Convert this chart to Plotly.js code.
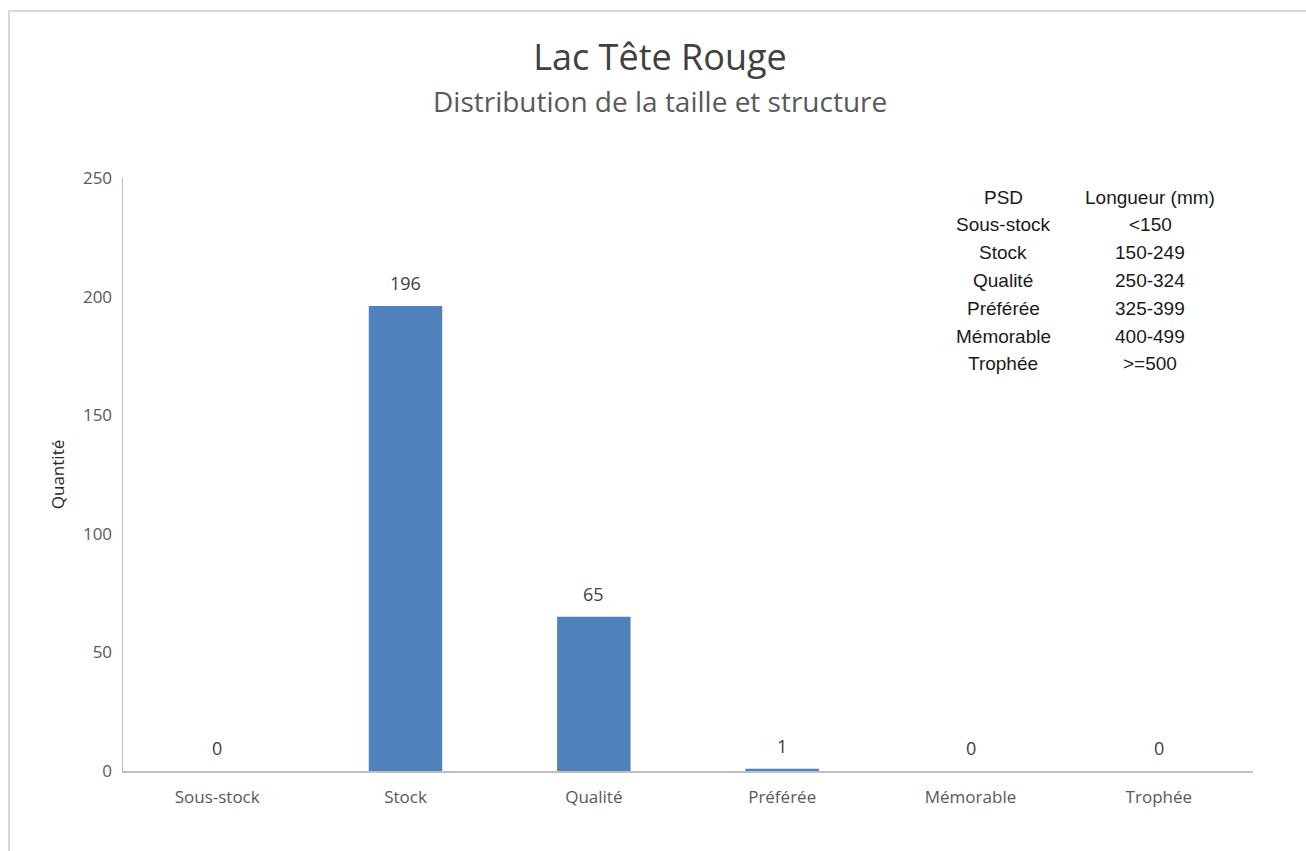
<!DOCTYPE html>
<html>
<head>
<meta charset="utf-8">
<script src="https://cdn.plot.ly/plotly-3.0.1.min.js"></script>
<style>
  html, body { margin: 0; padding: 0; background: #fff; }
  #frame { position: absolute; left: 8px; top: 10px; width: 1298px; height: 841px;
           border-top: 2px solid #d9d9d9; border-left: 2px solid #d9d9d9; box-sizing: border-box; }
  #chart { position: absolute; left: 0; top: 0; width: 1306px; height: 851px; }
</style>
</head>
<body>
<div id="frame"></div>
<div id="chart"></div>
<script>
const categories = ["Sous-stock", "Stock", "Qualité", "Préférée", "Mémorable", "Trophée"];
const quantities = [0, 196, 65, 1, 0, 0];
const yTicks = [0, 50, 100, 150, 200, 250];
const tableHeader = ["PSD", "Longueur (mm)"];
const psdClasses = ["Sous-stock", "Stock", "Qualité", "Préférée", "Mémorable", "Trophée"];
const lengthRanges = ["<150", "150-249", "250-324", "325-399", "400-499", ">=500"];

const mainFont = "Open Sans, Lato, sans-serif";
const plotL = 123, plotR = 1253, plotT = 178, plotB = 771;
const pw = plotR - plotL, ph = plotB - plotT;
const px = v => (v - plotL) / pw;
const py = v => (plotB - v) / ph;

const annotations = [];
// data labels
categories.forEach((c, i) => {
  annotations.push({
    x: c, y: quantities[i], xref: 'x', yref: 'y',
    text: String(quantities[i]), showarrow: false,
    yanchor: 'bottom', yshift: 9,
    font: { family: mainFont, size: 18, color: '#404040' }
  });
});
// table
const rowY0 = 197, rowStep = 27.8;
const col1 = 1003, col2 = 1150;
const rowsA = [tableHeader[0]].concat(psdClasses);
const rowsB = [tableHeader[1]].concat(lengthRanges);
const tableFont = { family: 'Liberation Sans, Arial, sans-serif', size: 19, color: '#1a1a1a' };
rowsA.forEach((t, i) => {
  annotations.push({ x: px(col1), y: py(rowY0 + i * rowStep), xref: 'paper', yref: 'paper',
    text: t, showarrow: false, xanchor: 'center', yanchor: 'middle', font: tableFont });
});
rowsB.forEach((t, i) => {
  annotations.push({ x: px(col2), y: py(rowY0 + i * rowStep), xref: 'paper', yref: 'paper',
    text: t, showarrow: false, xanchor: 'center', yanchor: 'middle', font: tableFont });
});
// subtitle
annotations.push({ x: px(660), y: py(101), xref: 'paper', yref: 'paper',
  text: 'Distribution de la taille et structure', showarrow: false,
  xanchor: 'center', yanchor: 'middle',
  font: { family: mainFont, size: 28, color: '#595959' } });

const data = [{
  type: 'bar', x: categories, y: quantities,
  marker: { color: '#4f81bd' }, hoverinfo: 'x+y'
}];

const layout = {
  width: 1306, height: 851,
  margin: { l: plotL, r: 1306 - plotR, t: plotT, b: 851 - plotB },
  paper_bgcolor: 'rgba(0,0,0,0)', plot_bgcolor: 'rgba(0,0,0,0)',
  showlegend: false,
  bargap: 0.61,
  title: { text: 'Lac Tête Rouge', x: 660 / 1306, xref: 'container', y: 1 - 57 / 851, yref: 'container',
           xanchor: 'center', yanchor: 'middle',
           font: { family: mainFont, size: 36, color: '#404040' } },
  xaxis: {
    type: 'category', showgrid: false, zeroline: false,
    showline: true, linecolor: '#bfbfbf', linewidth: 1.5,
    ticks: '', tickfont: { family: mainFont, size: 17, color: '#595959' },
    ticklabelstandoff: 10
  },
  yaxis: {
    range: [0, 250], tickvals: yTicks, ticktext: yTicks.map(String),
    showgrid: false, zeroline: false,
    showline: true, linecolor: '#bfbfbf', linewidth: 1.5,
    ticks: '', tickfont: { family: mainFont, size: 17, color: '#595959' },
    ticklabelstandoff: 6,
    title: { text: 'Quantité', standoff: 14, font: { family: mainFont, size: 17, color: '#262626' } }
  },
  annotations: annotations
};

Plotly.newPlot('chart', data, layout, { displayModeBar: false, staticPlot: true });
</script>
</body>
</html>
